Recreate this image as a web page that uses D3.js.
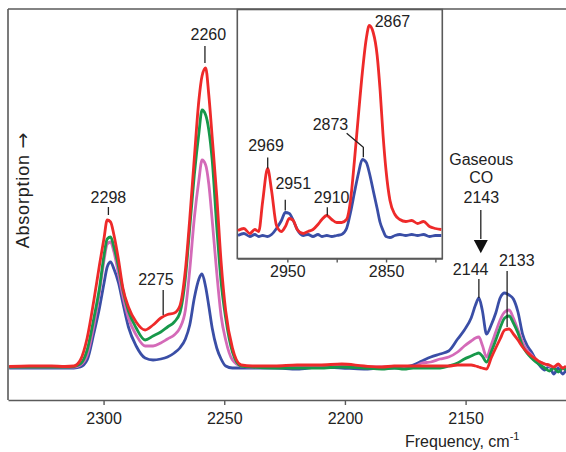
<!DOCTYPE html>
<html lang="en">
<head>
<meta charset="utf-8">
<title>IR spectra of adsorbed CO</title>
<script src="https://d3js.org/d3.v7.min.js"></script>
<style>
  body { margin: 0; background: #fff; }
  svg { display: block; font-family: "Liberation Sans", Arial, sans-serif; }
  .frame { stroke: #5a5a5a; stroke-width: 1.6; fill: none; }
  .axis path, .axis line { stroke: #5a5a5a; stroke-width: 1.4; }
  .axis text { font-size: 16px; fill: #222; font-family: "Liberation Sans", Arial, sans-serif; }
  .spec { fill: none; stroke-width: 2.8; stroke-linejoin: round; }
  .lbl { font-size: 16px; fill: #222; text-anchor: middle; }
  .lead { stroke: #222; stroke-width: 1.3; fill: none; }
</style>
</head>
<body>
<svg id="chart" width="566" height="452"></svg>
<script>
// main spectra, frequency in cm-1, absorbance in arbitrary units
const mainFreq = [2339.1, 2330.8, 2321.6, 2316.0, 2312.3, 2309.6, 2306.8, 2304.0, 2301.7, 2299.8,
  2298.5, 2297.1, 2295.7, 2293.8, 2292.0, 2289.7, 2286.5, 2282.8, 2279.5, 2276.3,
  2273.5, 2270.7, 2268.4, 2266.1, 2264.3, 2262.4, 2260.5, 2259.2, 2257.7, 2256.4,
  2255.0, 2253.1, 2251.3, 2249.4, 2246.6, 2243.0, 2238.3, 2229.1, 2219.8, 2210.6,
  2201.3, 2192.1, 2184.7, 2179.6, 2175.5, 2171.7, 2168.1, 2164.4, 2160.6, 2157.0,
  2153.3, 2150.5, 2147.7, 2145.9, 2144.5, 2143.1, 2141.3, 2139.4, 2137.5, 2135.7,
  2133.8, 2132.0, 2130.2, 2128.3, 2126.4, 2124.6, 2122.7, 2120.9, 2119.1, 2117.2,
  2115.3, 2113.5, 2111.6, 2109.8, 2108.4];
const mainRed = [0.5, 1, 1, 0.5, 1, 7, 29, 67, 102, 129,
  147, 145, 132, 107, 79, 60, 45, 37, 42, 49,
  52.5, 54, 61, 97, 148, 209, 267, 291, 299, 272,
  230, 171, 105, 56, 19, 2, 1, 1, 2, 2,
  3, 1, 0, 1, 1, 1, 1, 1, 1, 1,
  2, 2, 2, 1, 0, -1, -2, 9, 19, 28,
  37, 38, 33, 27, 20, 15, 11, 8, 5, 3,
  2, 0, 3, -1, 1];
const mainGreen = [0, 0, 0, 0, 0.5, 3, 17, 49, 79, 112,
  128, 130, 120, 100, 77, 56, 39, 27, 31, 35,
  40, 45, 54, 89, 139, 192, 234, 257, 252, 237,
  207, 140, 85, 49, 15, 1, 0, -1, -1, -1,
  0, -1, -2, -1, -2, -1, -1, -1, -1, 1,
  4, 8, 11, 13, 14, 11, 5, 15, 27, 39,
  49, 51, 44, 34, 21, 14, 9, 5, 2, -1,
  -4, -1, -5, -1, -3];
const mainPink = [0, 0, 0, 0, 0, 2, 12, 42, 75, 107,
  123, 125, 115, 93, 71, 49, 32, 21, 21, 24,
  28, 32, 39, 57, 97, 149, 187, 207, 202, 183,
  147, 94, 51, 27, 7, 1, 0, 0, 0, 0,
  1, 0, 0, 0, 0, 0, 4, 5, 8, 10,
  15, 21, 26, 29, 30, 22, 10, 22, 35, 47,
  55, 57, 49, 37, 25, 17, 12, 7, 5, 3,
  1, -1, 2, -2, 0];
const mainBlue = [-1, -1, -1, -1, -1, 0, 7, 34, 59, 84,
  100, 105, 98, 84, 64, 40, 21, 9, 7, 8,
  10, 14, 19, 28, 42, 69, 88, 93, 80, 61,
  39, 19, 8, 1, -1, -1, -1, -1, -2, 0,
  -1, -2, -1, -1, 0, 2, 6, 10, 13, 16,
  28, 37, 49, 62, 69, 57, 33, 42, 54, 69,
  74, 72, 68, 55, 33, 22, 15, 7, 1, -3,
  1, -7, -1, -7, -3];

// inset spectra (C-H region)
const insetFreq = [3000, 2994, 2988, 2983, 2979, 2975, 2970, 2966, 2961, 2956,
  2952, 2948, 2944, 2940, 2934, 2929, 2924, 2919, 2915, 2910,
  2905, 2900, 2895, 2890, 2886, 2882, 2878, 2874, 2870, 2867,
  2863, 2859, 2856, 2853, 2850, 2846, 2841, 2836, 2830, 2824,
  2818, 2812, 2806, 2800, 2794];
const insetRed = [5, 7, 2, 6, 4, 34, 67, 45, 10, 4,
  9, 17, 15, 6, 2, 4, 6, 11, 16, 20,
  16, 13, 13, 16, 35, 75, 120, 163, 197, 210,
  203, 180, 145, 100, 65, 35, 21, 16, 14, 15,
  12, 14, 9, 7, 6];
const insetBlue = [0, 2, -1, 1, -1, 0, -1, 1, 7, 15,
  23, 22, 15, 6, 0, 1, -1, 1, -1, 0,
  -1, 0, 1, 7, 23, 43, 62, 76, 73, 63,
  45, 27, 13, 5, -1, -2, 0, 1, 0, 1,
  0, 1, -1, 0, 0];

const mainTicks = [2300, 2250, 2200, 2150];
const insetTicks = [2950, 2900, 2850, 2800];

// peak labels: text position (tf, tv) and marker line (kf, k0..k1)
const mainNotes = [
  {text: '2298', tf: 2298.0, tv: 164, kf: 2298.0, k0: 152, k1: 160, w: 1.3},
  {text: '2275', tf: 2278.3, tv: 82, kf: 2275.3, k0: 52, k1: 77, w: 1.3},
  {text: '2260', tf: 2256.6, tv: 327.5, kf: 2258.0, k0: 304, k1: 321, w: 1.3},
  {text: '2144', tf: 2147.9, tv: 92, kf: 2144.5, k0: 69, k1: 88, w: 1.3},
  {text: '2133', tf: 2128.8, tv: 101, kf: 2132.8, k0: 40, k1: 96, w: 2.2}
];
const insetNotes = [
  {text: '2969', tf: 2971.6, tv: 85, kf: 2969.9, k0: 67, k1: 78},
  {text: '2951', tf: 2944.0, tv: 46.7, kf: 2952.1, k0: 25, k1: 35.7},
  {text: '2910', tf: 2905.1, tv: 32.7, kf: 2909.5, k0: 20, k1: 28.3}
];

const svg = d3.select('#chart');

const xMain = d3.scaleLinear().domain([2339.6, 2108.4]).range([8, 566]);
const yMain = d3.scaleLinear().domain([-33, 358]).range([400, 9]);

const xIn = d3.scaleLinear().domain([3000.7, 2793]).range([237.3, 442.3]);
const yIn = d3.scaleLinear().domain([-23, 226]).range([258.5, 9.5]);

// frame
svg.append('line').attr('class', 'frame')
  .attr('x1', 8).attr('x2', 566).attr('y1', 9).attr('y2', 9);
svg.append('line').attr('class', 'frame')
  .attr('x1', 8).attr('x2', 8).attr('y1', 9).attr('y2', 400);

svg.append('g')
  .attr('class', 'axis')
  .attr('transform', 'translate(0,400)')
  .call(d3.axisBottom(xMain).tickValues(mainTicks).tickFormat(d3.format('d'))
    .tickSize(5).tickSizeOuter(0).tickPadding(7.5));

// spectra
const mainLine = series => d3.line()
  .x((d, i) => xMain(mainFreq[i]))
  .y(d => yMain(d))
  .curve(d3.curveMonotoneX)(series);

const mainSeries = [
  {vals: mainBlue, color: '#3a4ea6'},
  {vals: mainPink, color: '#d46ab8'},
  {vals: mainGreen, color: '#17984a'},
  {vals: mainRed, color: '#ee2a2a'}
];

svg.append('g').selectAll('path')
  .data(mainSeries)
  .join('path')
  .attr('class', 'spec')
  .attr('stroke', d => d.color)
  .attr('d', d => mainLine(d.vals));

// labels in main plot
const notes = svg.append('g');
notes.selectAll('text')
  .data(mainNotes)
  .join('text')
  .attr('class', 'lbl')
  .attr('x', d => xMain(d.tf))
  .attr('y', d => yMain(d.tv))
  .text(d => d.text);
notes.selectAll('line')
  .data(mainNotes)
  .join('line')
  .attr('class', 'lead')
  .attr('stroke-width', d => d.w)
  .attr('x1', d => xMain(d.kf)).attr('x2', d => xMain(d.kf))
  .attr('y1', d => yMain(d.k0)).attr('y2', d => yMain(d.k1));

// gaseous CO marker
const gasLines = ['Gaseous', 'CO', '2143'];
const gasV = [202, 183.7, 164.3];
svg.append('g').selectAll('text')
  .data(gasLines)
  .join('text')
  .attr('class', 'lbl')
  .attr('x', xMain(2143.5))
  .attr('y', (d, i) => yMain(gasV[i]))
  .text(d => d);
const ax = xMain(2143.7);
svg.append('line').attr('class', 'lead')
  .attr('x1', ax).attr('x2', ax)
  .attr('y1', yMain(157)).attr('y2', yMain(128));
svg.append('path')
  .attr('fill', '#111')
  .attr('d', `M${ax - 7},${yMain(127)}L${ax + 7},${yMain(127)}L${ax},${yMain(113.7)}Z`);

// axis titles
const xt = svg.append('text')
  .attr('x', 405).attr('y', 446.7)
  .attr('font-size', 16).attr('fill', '#222')
  .text('Frequency, cm');
xt.append('tspan').attr('dy', -7).attr('font-size', 11).text('-1');

const yt = svg.append('text')
  .attr('transform', 'translate(29,190) rotate(-90)')
  .attr('text-anchor', 'middle')
  .attr('font-size', 18)
  .attr('letter-spacing', 0.8)
  .attr('fill', '#222')
  .text('Absorption ');
yt.append('tspan')
  .attr('font-family', '"DejaVu Sans", sans-serif')
  .attr('font-size', 19)
  .text('\u2192');

// inset
const inset = svg.append('g');
inset.append('rect')
  .attr('x', 237.3).attr('y', 9.5)
  .attr('width', 442.3 - 237.3).attr('height', 258.5 - 9.5)
  .attr('fill', '#fff').attr('class', 'frame');

inset.append('g')
  .attr('class', 'axis')
  .attr('transform', 'translate(0,258.5)')
  .call(d3.axisBottom(xIn).tickValues(insetTicks).tickSize(4).tickSizeOuter(0).tickPadding(3.5)
    .tickFormat(d => (d === 2950 || d === 2850) ? d : ''));

const inLine = series => d3.line()
  .x((d, i) => xIn(insetFreq[i]))
  .y(d => yIn(d))
  .curve(d3.curveMonotoneX)(series);

inset.append('g').selectAll('path')
  .data([{vals: insetBlue, color: '#3a4ea6'}, {vals: insetRed, color: '#ee2a2a'}])
  .join('path')
  .attr('class', 'spec')
  .attr('stroke', d => d.color)
  .attr('d', d => inLine(d.vals));

inset.append('g').selectAll('text')
  .data(insetNotes)
  .join('text')
  .attr('class', 'lbl')
  .attr('x', d => xIn(d.tf))
  .attr('y', d => yIn(d.tv))
  .text(d => d.text);
inset.append('g').selectAll('line')
  .data(insetNotes)
  .join('line')
  .attr('class', 'lead')
  .attr('x1', d => xIn(d.kf)).attr('x2', d => xIn(d.kf))
  .attr('y1', d => yIn(d.k0)).attr('y2', d => yIn(d.k1));

inset.append('text').attr('class', 'lbl')
  .attr('x', xIn(2843.5)).attr('y', yIn(208.3)).text('2867');
inset.append('text').attr('class', 'lbl')
  .attr('x', xIn(2906.3)).attr('y', yIn(105.5)).text('2873');
inset.append('path').attr('class', 'lead')
  .attr('d', d3.line()([[xIn(2889.9), yIn(102.3)], [xIn(2873.0), yIn(88.3)], [xIn(2873.0), yIn(78.3)]]));
</script>
</body>
</html>
